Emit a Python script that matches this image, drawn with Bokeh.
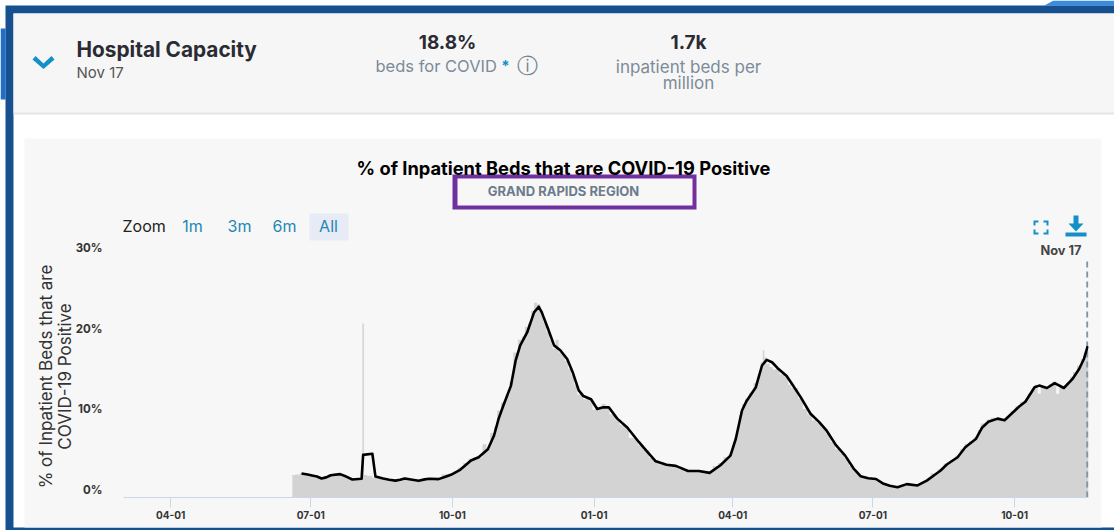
from datetime import datetime, timedelta
from bokeh.plotting import figure
from bokeh.layouts import column
from bokeh.core.properties import value
from bokeh.models import (Range1d, LinearAxis, DatetimeAxis, FixedTicker, DatetimeTickFormatter, PrintfTickFormatter)
from bokeh.embed import file_html
from bokeh.resources import INLINE

# ---- data: (days after 2020-07-01, percent) -----------------------------
line_points = [(-6,2.98),(-2,2.85),(0,2.77),(4,2.6),(7,2.36),(10,2.5),(13,2.77),(19,2.9),(23,2.6),(27,2.24),(33,2.32),(34,5.3),(40,5.43),(42,2.6),
    (47,2.36),(51,2.2),(55,2.1),(58,2.2),(61,2.36),(66,2.2),(70,2.07),(74,2.25),(77,2.32),(83,2.28),(87,2.55),(91,2.82),(97,3.44),(101,4.1),
    (104,4.6),(109,5.0),(115,6.0),(119,7.7),(122,9.8),(125,11.4),(130,13.9),(133,17.0),(136,18.9),(140.5,20.5),(145,23.0),(148,23.7),(150,23.0),
    (154,21.0),(158,18.9),(162,18.3),(166.5,17.2),(170,15.6),(174,13.3),(177,12.6),(182,12.2),(186,11.0),(190,11.2),(193.5,11.2),(199,9.8),(205.5,8.7),
    (213,6.9),(218,5.8),(224,4.5),(231,4.06),(237,3.93),(245,3.3),(252,3.3),(259,3.06),(266,4.0),(272.5,5.2),(276,7.3),(280,10.8),(283,12.0),(289,13.7),
    (293,16.4),(296,17.1),(299.5,16.8),(303,16.1),(309,15.1),(312.5,14.1),(318,12.5),(324.5,10.4),(330,9.4),(335,8.3),(341,6.5),(347,5.2),(352.5,3.6),
    (357,2.65),(362,2.4),(367,2.3),(372,1.7),(376,1.45),(381,1.28),(387,1.66),(394,1.5),(400,2.1),(405,2.8),(409,3.35),(413,4.1),(420,5.0),(425,6.25),
    (432,7.3),(436,8.7),(440,9.4),(446,9.8),(450.5,9.6),(455.5,10.5),(460,11.3),(464,11.9),(470,13.7),(473,13.9),(478,13.6),(483,14.2),(489,13.6),
    (494.5,14.7),(499,16.0),(502,17.2),(504.5,18.8)]
bar_points = [(-12,2.8),(-8,2.85),(-6,3.0),(-3,2.8),(0,2.75),(4,2.5),(7,2.4),(10,2.6),(13,2.9),(16,3.0),(19,3.0),(23,2.7),(27,2.3),(30,2.3),(33,2.2),(34,21.6),(35,2.8),
    (38,2.7),(42,2.5),(47,2.3),(51,2.2),(55,2.1),(58,2.3),(61,2.5),(66,2.2),(70,2.1),(74,2.3),(77,2.4),(80,2.3),(83,2.3),(87,2.9),(91,2.9),(94,3.2),(97,3.7),(101,4.3),
    (104,4.8),(107,5.0),(110,5.0),(113,6.6),(115,6.0),(118,8.0),(120,8.8),(122,10.8),(125,11.8),(128,12.7),(130,14.4),(133,18.0),(136,19.6),(138,20.0),(140,21.2),(142,21.6),
    (144,23.2),(146,24.2),(148,24.0),(150,23.2),(152,21.8),(154,20.6),(156,19.6),(158,18.5),(160,19.6),(162,18.0),(164,17.8),(166,17.0),(168,16.0),(170,15.2),(172,14.0),
    (174,12.8),(176,13.0),(178,12.2),(180,12.4),(182,12.0),(184,10.9),(186,11.1),(188,11.3),(190,11.6),(193,11.0),(195,10.3),(197,10.3),(199,9.6),(202,9.0),(205,8.8),
    (208,7.4),(211,7.3),(214,6.5),(218,5.9),(221,4.9),(224,4.6),(228,4.1),(231,4.2),(234,4.0),(237,3.8),(241,3.5),(245,3.4),(249,3.3),(252,3.3),(256,3.0),(259,3.1),
    (263,3.9),(266,4.3),(270,5.0),(273,5.5),(275,6.8),(277,8.2),(279,10.2),(281,11.6),(283,12.3),(286,13.0),(289,14.2),(291,15.2),(293,16.8),(294,18.3),(295,17.4),
    (297,16.6),(299,16.2),(301,15.9),(303,16.0),(306,15.3),(309,15.0),(311,14.0),(313,13.6),(315,13.6),(318,12.3),(321,11.0),(324,10.3),(327,9.6),(330,9.3),(333,8.7),
    (336,7.9),(339,6.9),(342,6.0),(345,5.5),(348,4.9),(351,3.9),(354,3.2),(357,2.7),(360,2.5),(364,2.4),(367,2.4),(370,2.0),(372,1.8),(376,1.5),(381,1.3),(384,1.5),
    (387,1.7),(391,1.6),(394,1.6),(397,1.9),(400,2.2),(405,3.0),(409,3.5),(413,4.2),(417,4.7),(420,5.2),(423,6.0),(426,6.6),(429,7.0),(432,7.5),(434,8.4),(436,9.2),
    (438,9.3),(440,9.7),(443,9.9),(446,9.9),(450,9.6),(453,10.1),(456,10.7),(459,11.3),(462,11.9),(464,12.1),(467,12.9),(469,13.6),(471,14.0),(473,12.9),(475,13.8),
    (478,13.7),(481,14.1),(483,14.4),(485,12.9),(487,13.8),(489,13.5),(492,14.3),(494,15.0),(496,15.6),(499,16.4),(501,17.2),(503,18.0),(504,18.8),(505,18.8)]
tick_dates = ["2020-04-01","2020-07-01","2020-10-01","2021-01-01","2021-04-01","2021-07-01","2021-10-01"]
y_ticks = [0,10,20,30]
base = datetime(2020,7,1)
def day(d): return base + timedelta(days=d)

W,H = 1114,530
FL,FR,FT,FB = 123,1088,240,497   # frame edges, canvas px
PXD = 8.05
ymax = (FB-FT)/PXD
xs = [day(d) for d,v in line_points]; line_vals = [v for d,v in line_points]
xb = [day(d) for d,v in bar_points];  bar_vals  = [v for d,v in bar_points]

# ---- page chrome: a full-canvas figure in pixel coordinates -------------
c = figure(width=W, height=H, output_backend="svg", toolbar_location=None, x_axis_type=None, y_axis_type=None,
           x_range=Range1d(0,W), y_range=Range1d(H,0), min_border=0, outline_line_color=None,
           background_fill_color="#ffffff", border_fill_color="#ffffff", margin=(0,0,0,0), frame_align=False)
c.grid.visible = False
def box(x0,y0,x1,y1,col):
    c.quad(left=[x0],right=[x1],top=[y0],bottom=[y1],fill_color=col,line_color=None)
def poly(pts,col):
    c.patch(x=[a for a,b in pts],y=[b for a,b in pts],fill_color=col,line_color=None)
def txt(x,y,t,size,color,bold=False,align="left",angle=0,font="Inter"):
    c.text(x=[x],y=[y],text=[t],text_font=value(font),text_font_size=f"{size}px",text_color=color,
           text_font_style="bold" if bold else "normal",text_align=align,text_baseline="middle",
           angle=angle,angle_units="deg")

poly([(1044,5),(1053,0),(1114,0),(1114,5)],"#3a8ce0")
box(0,28,5,99,"#1f6fc9")
box(5,5,1114,530,"#17508f")
box(13,13,1114,527,"#ffffff")
box(13,13,1114,112,"#f6f6f6")
box(13,112,1114,114,"#e4e4e4")
box(24,138,1101,527,"#f7f7f7")
box(452,174,696,209,"#7030a0")
box(457,178,692,205,"#f7f7f7")
box(309,213,348,240,"#e6ebf5")

txt(76,49,"Hospital Capacity",20.8,"#2b2b33",True)
txt(76,72,"Nov 17",15,"#555555")
txt(447,42,"18.8%",19,"#2b2b33",True,"center")
txt(375,65,"beds for COVID",16.5,"#7b8b99")
txt(505,65,"*",15,"#1490c8",True,"center")
txt(527,65,"ⓘ",21,"#6f7f8d",False,"center",font="DejaVu Sans")
txt(688,42,"1.7k",19,"#2b2b33",True,"center")
txt(688,66,"inpatient beds per",17,"#7b8b99",False,"center")
txt(688,82,"million",17,"#7b8b99",False,"center")
txt(563,167,"% of Inpatient Beds that are COVID-19 Positive",18.3,"#000000",True,"center")
txt(563,190,"GRAND RAPIDS REGION",13,"#6c7b8b",True,"center")
txt(122,225,"Zoom",16,"#222222")
for x,t in [(192,"1m"),(239,"3m"),(284,"6m"),(328,"All")]:
    txt(x,225,t,16,"#1f87b5",False,"center")
txt(1081,250,"Nov 17",12.8,"#444444",True,"right")
txt(45,376,"% of Inpatient Beds that are",17,"#333333",False,"center",90)
txt(64,376,"COVID-19 Positive",17,"#333333",False,"center",90)

b="#1490c8"
poly([(32,59),(35,55.5),(43,63),(51,55.5),(54,59),(43,68.5)],b)
poly([(1033,220),(1038,220),(1038,222),(1035,222),(1035,225),(1033,225)],b)
poly([(1048,220),(1043,220),(1043,222),(1046,222),(1046,225),(1048,225)],b)
poly([(1033,234),(1038,234),(1038,232),(1035,232),(1035,229),(1033,229)],b)
poly([(1048,234),(1043,234),(1043,232),(1046,232),(1046,229),(1048,229)],b)
poly([(1073,215),(1078,215),(1078,223),(1083,223),(1075.5,231),(1068,223),(1073,223)],b)
poly([(1065,232),(1086,232),(1086,236),(1065,236)],b)

# ---- chart, laid over the chrome ----------------------------------------
p = figure(width=W, height=H, output_backend="svg", toolbar_location=None, x_axis_type=None, y_axis_type=None,
           x_range=Range1d(day(-121.6), day(505.0)), y_range=Range1d(0,ymax),
           min_border_left=FL, min_border_right=W-FR, min_border_top=FT, min_border_bottom=H-FB,
           background_fill_color=None, border_fill_color=None, outline_line_color=None,
           margin=(-H,0,0,0), frame_align=False)
p.grid.visible = False
p.varea_step(x=xb,y1=[0]*len(xb),y2=bar_vals,step_mode="center",fill_color="#d3d3d3")
p.line(x=[day(504.2),day(504.2)],y=[0,(FB-258)/PXD],line_color="#7f96a8",line_width=2,line_dash="6 4")
p.line(x=xs,y=line_vals,line_color="#000000",line_width=2.6,line_join="round")

xa = DatetimeAxis(ticker=FixedTicker(ticks=[datetime.fromisoformat(t).timestamp()*1000 for t in tick_dates]))
xa.formatter = DatetimeTickFormatter(days="%m-%d",months="%m-%d",years="%m-%d",hours="%m-%d",context=None)
xa.axis_line_color="#ccd6eb"; xa.major_tick_line_color="#ccd6eb"; xa.minor_tick_line_color=None
xa.major_tick_out=10; xa.major_tick_in=0; xa.major_label_standoff=3
xa.major_label_text_font="Inter"; xa.major_label_text_font_size="10px"; xa.major_label_text_color="#333333"
xa.major_label_text_font_style="bold"
p.add_layout(xa,"below")

# tick labels sit 8px above their value, as in the source chart
p.extra_y_ranges["lab"] = Range1d(-8/PXD, ymax-8/PXD)
ya = LinearAxis(y_range_name="lab",ticker=FixedTicker(ticks=y_ticks),formatter=PrintfTickFormatter(format="%d%%"))
ya.axis_line_color=None; ya.major_tick_line_color=None; ya.minor_tick_line_color=None
ya.major_label_text_font="Inter"; ya.major_label_text_font_size="11.5px"; ya.major_label_text_color="#333333"
ya.major_label_text_font_style="bold"; ya.major_label_standoff=15
p.add_layout(ya,"left")

root = column(c,p,margin=(0,0,0,0),spacing=0)
open("out.html","w").write(file_html(root, INLINE))
